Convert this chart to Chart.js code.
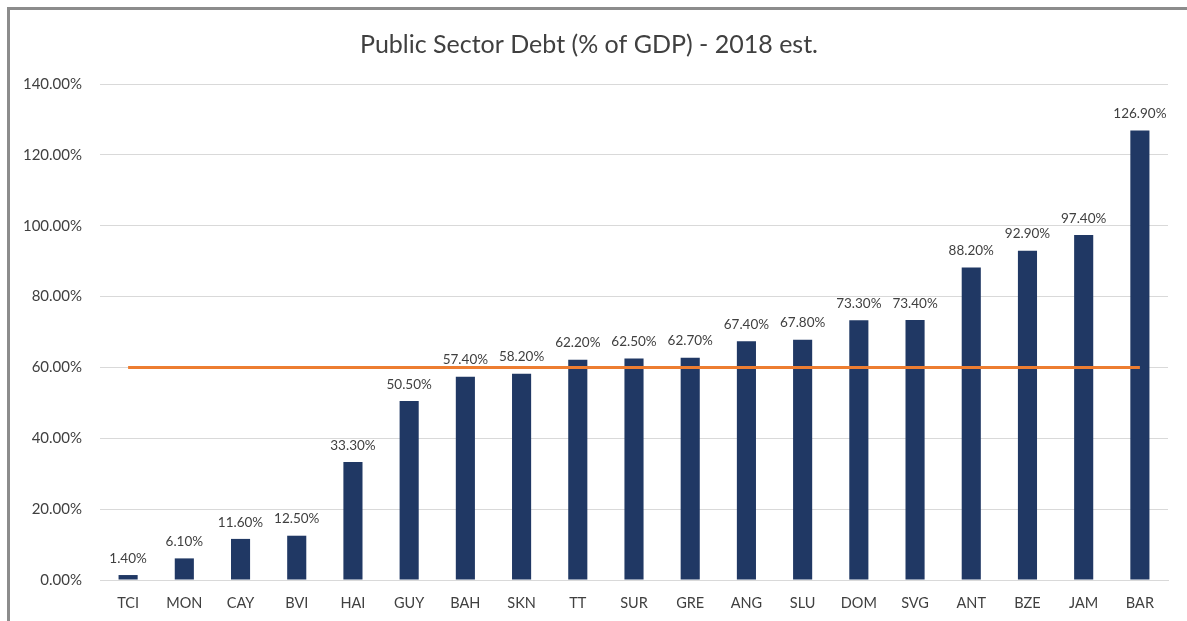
<!DOCTYPE html>
<html>
<head>
<meta charset="utf-8">
<script src="https://cdn.jsdelivr.net/npm/chart.js@4"></script>
<style>
  html, body { margin: 0; padding: 0; background: #fff; }
  #frame { position: absolute; left: 0; top: 0; width: 1187px; height: 621px; }
  #border { position: absolute; left: 7px; top: 7px; width: 1180px; height: 614px;
            border-left: 3px solid #8c8c8c; border-top: 3px solid #8c8c8c; box-sizing: border-box; }
</style>
</head>
<body>
<div id="frame">
  <canvas id="debtChart" width="1187" height="621"></canvas>
  <div id="border"></div>
</div>
<script>
const countries = ['TCI', 'MON', 'CAY', 'BVI', 'HAI', 'GUY', 'BAH', 'SKN', 'TT', 'SUR',
                   'GRE', 'ANG', 'SLU', 'DOM', 'SVG', 'ANT', 'BZE', 'JAM', 'BAR'];
const debtPct = [1.4, 6.1, 11.6, 12.5, 33.3, 50.5, 57.4, 58.2, 62.2, 62.5,
                 62.7, 67.4, 67.8, 73.3, 73.4, 88.2, 92.9, 97.4, 126.9];
const threshold = [60, 60, 60, 60, 60, 60, 60, 60, 60, 60,
                   60, 60, 60, 60, 60, 60, 60, 60, 60];
const yTicks = [0, 20, 40, 60, 80, 100, 120, 140];

const barLabels = {
    id: 'barLabels',
    afterDatasetsDraw(chart) {
        const ctx = chart.ctx;
        const meta = chart.getDatasetMeta(0);
        ctx.save();
        ctx.font = '13.5px Lato, "Liberation Sans", sans-serif';
        ctx.fillStyle = '#404040';
        ctx.textAlign = 'center';
        ctx.textBaseline = 'bottom';
        meta.data.forEach(function(bar, i) {
            ctx.fillText(debtPct[i].toFixed(2) + '%', bar.x, bar.y - 10);
        });
        ctx.restore();
    }
};

const debtConfig = {
    data: {
        labels: countries,
        datasets: [
            {
                type: 'bar',
                data: debtPct,
                backgroundColor: '#203864',
                categoryPercentage: 1,
                barPercentage: 0.34,
                order: 2
            },
            {
                type: 'line',
                data: threshold,
                borderColor: '#ed7d31',
                borderWidth: 3,
                pointRadius: 0,
                order: 1
            }
        ]
    },
    options: {
        responsive: false,
        animation: false,
        layout: { padding: { left: 10, right: 19, top: 0, bottom: 0 } },
        plugins: {
            legend: { display: false },
            tooltip: { enabled: false },
            title: {
                display: true,
                text: 'Public Sector Debt (% of GDP) - 2018 est.',
                color: '#404040',
                font: { family: 'Lato, "Liberation Sans", sans-serif', size: 25, weight: 'normal', lineHeight: 1.2 },
                padding: { top: 30, bottom: 24 }
            }
        },
        scales: {
            x: {
                grid: { display: false, drawTicks: false },
                border: { display: true, color: '#d9d9d9' },
                ticks: {
                    color: '#404040',
                    padding: 15,
                    font: { family: 'Lato, "Liberation Sans", sans-serif', size: 14.5 }
                },
                afterFit: function(scale) { scale.height = 41; }
            },
            y: {
                min: 0,
                max: 140,
                afterBuildTicks: function(scale) {
                    scale.ticks = yTicks.map(v => ({ value: v }));
                },
                grid: { color: '#d9d9d9', drawTicks: false },
                border: { display: false },
                ticks: {
                    color: '#404040',
                    padding: 18,
                    font: { family: 'Lato, "Liberation Sans", sans-serif', size: 15 },
                    callback: v => v.toFixed(2) + '%'
                },
                afterFit: function(scale) { scale.width = 90; }
            }
        }
    },
    plugins: [barLabels]
};

let debtChart = new Chart(document.getElementById('debtChart'), debtConfig);
</script>
</body>
</html>
